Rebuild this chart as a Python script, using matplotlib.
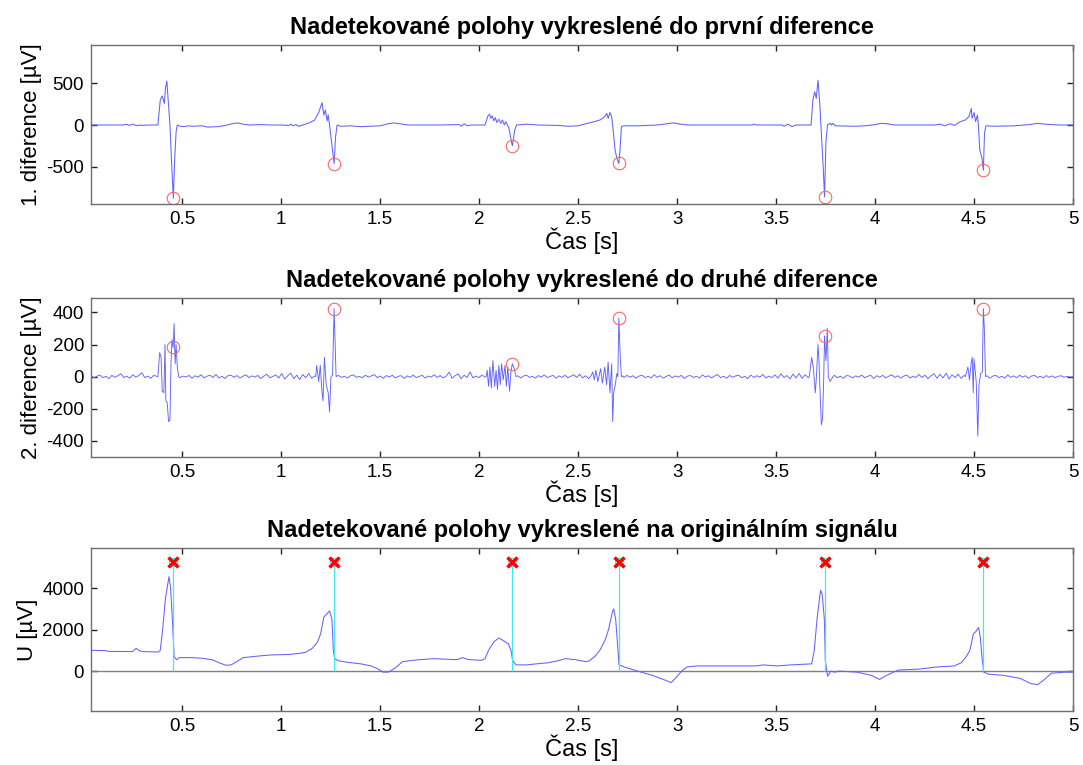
import numpy as np
import matplotlib
matplotlib.use('Agg')
from matplotlib import pyplot as plt

plt.rcParams['font.family'] = ['Liberation Sans', 'DejaVu Sans']

# detected positions [s] and values at them
det_t = [0.456, 1.268, 2.168, 2.706, 3.745, 4.547]
det_d1 = [-880, -465, -250, -462, -865, -545]
det_d2 = [183, 424, 81, 364, 254, 424]
det_mark = 5250

# first difference [uV]
d1_t = [0.04, 0.20, 0.22, 0.235, 0.25, 0.27, 0.29, 0.30, 0.33, 0.378, 0.39, 0.40, 0.411, 0.416,
        0.423, 0.43, 0.439, 0.446, 0.456, 0.463, 0.47, 0.476, 0.49, 0.51, 0.53, 0.55, 0.60, 0.63,
        0.68, 0.72, 0.75, 0.78, 0.81, 0.84, 0.90, 0.95, 1.00, 1.04, 1.05, 1.06, 1.075, 1.09, 1.11,
        1.146, 1.17, 1.19, 1.207, 1.216, 1.224, 1.233, 1.238, 1.245, 1.255, 1.268, 1.275, 1.283,
        1.30, 1.35, 1.40, 1.45, 1.50, 1.54, 1.57, 1.60, 1.64, 1.80, 1.90, 1.91, 1.925, 1.94, 1.96,
        2.03, 2.045, 2.053, 2.06, 2.066, 2.075, 2.082, 2.09, 2.10, 2.11, 2.118, 2.128, 2.135, 2.15,
        2.168, 2.175, 2.18, 2.19, 2.24, 2.30, 2.40, 2.45, 2.50, 2.547, 2.582, 2.61, 2.635, 2.645,
        2.652, 2.661, 2.67, 2.679, 2.687, 2.696, 2.706, 2.712, 2.719, 2.73, 2.80, 2.90, 2.95, 2.98,
        3.02, 3.06, 3.20, 3.38, 3.39, 3.40, 3.53, 3.54, 3.56, 3.58, 3.60, 3.677, 3.686, 3.695,
        3.703, 3.712, 3.721, 3.729, 3.738, 3.745, 3.752, 3.76, 3.773, 3.78, 3.787, 3.80, 3.90, 3.95,
        4.00, 4.03, 4.06, 4.10, 4.30, 4.33, 4.35, 4.38, 4.40, 4.43, 4.456, 4.474, 4.486, 4.49, 4.50,
        4.508, 4.517, 4.522, 4.529, 4.54, 4.547, 4.553, 4.56, 4.60, 4.70, 4.78, 4.82, 4.86, 4.93, 5.0]
d1_v = [0, 0, 8, -5, 10, -8, 0, -5, 0, 0, 300, 350, 260, 440,
        530, 300, 0, -400, -880, -400, -80, 0, -15, -20, -10, -15, -10, -25,
        -20, -5, 15, 25, 10, 0, 5, 0, 0, -5, 10, -10, 5, -15, 0,
        30, 60, 150, 270, 120, 180, 50, 120, 0, -200, -465, -150, 0,
        -15, -10, -20, -15, -10, 15, 25, 15, 0, 0, 5, -15, 15, -10, 0,
        0, 110, 130, 80, 110, 50, 90, 30, 70, 20, 60, 0, 40, -30,
        -250, -150, -60, 0, 10, 0, -5, -15, -10, 20, 40, 60, 100, 140,
        80, 150, 100, -100, -300, -400, -462, -300, -20, -10, -10, 0, 15, 25,
        10, 0, 0, 0, 10, 0, 0, -15, 10, -20, 0, 0, 300, 400,
        320, 540, 250, -100, -500, -865, -200, 0, 20, 0, 20, -10, -15, -10,
        5, 20, 15, 0, 0, 10, -10, 15, -5, 40, 60, 100, 200, 80, 150,
        40, 120, 0, -300, -400, -545, -100, -10, -15, -10, 5, 20, 10, 0, 0]

# second difference: QRS parts [uV]
q1_t = [0.378, 0.387, 0.394, 0.40, 0.408, 0.414, 0.418, 0.425, 0.432, 0.439, 0.444, 0.449,
        0.455, 0.46, 0.465, 0.47, 0.476, 0.483]
q1_v = [0, 150, 120, -90, -100, 200, -150, -160, -280, -270, 80, 230, 180, 330, 80, 200, 60, 0]
q2_t = [1.175, 1.18, 1.19, 1.198, 1.207, 1.212, 1.219, 1.228, 1.238, 1.245, 1.252, 1.26,
        1.268, 1.273, 1.278, 1.284]
q2_v = [0, 70, -30, 70, -100, -150, 120, -50, -100, -220, 0, 10, 424, 200, 0, 5]
q3_t = [2.036, 2.041, 2.048, 2.055, 2.062, 2.07, 2.079, 2.086, 2.093, 2.10, 2.107, 2.114,
        2.122, 2.131, 2.138, 2.145, 2.154, 2.161, 2.168, 2.178, 2.187]
q3_v = [0, 40, -60, 60, -70, 100, -60, 40, -80, 70, -50, 80, -20, 70, -60, 60, -90, 30, 81, 50, 0]
q4_t = [2.574, 2.582, 2.59, 2.60, 2.614, 2.623, 2.635, 2.644, 2.652, 2.661, 2.67, 2.675,
        2.68, 2.687, 2.696, 2.701, 2.706, 2.714, 2.719, 2.725]
q4_v = [30, -20, 40, -30, 50, -40, 60, -50, 90, -100, 80, -280, -100, -60, 20, 0, 364, 100, 0, 5]
q5_t = [3.668, 3.68, 3.689, 3.698, 3.703, 3.712, 3.717, 3.724, 3.729, 3.735, 3.741, 3.745,
        3.752, 3.759, 3.764, 3.773, 3.787]
q5_v = [0, 120, 50, -100, -20, 200, 100, -150, -300, -260, 0, 254, 100, 300, 0, -30, 0]
q6_t = [4.456, 4.469, 4.477, 4.486, 4.491, 4.496, 4.50, 4.511, 4.519, 4.525, 4.534, 4.542,
        4.547, 4.552, 4.558]
q6_v = [0, 60, -20, 90, 120, -100, 110, -30, -370, -50, 20, 30, 424, 300, 0]

# second difference: baseline jitter between complexes (start, end, values)
nA = (0.04, 0.372, [5, -8, 3, 10, -6, 2, -12, 8, -4, 6, 18, -5, 3, -9, 12, -3, 7, 25, -6, 4,
                    -10, 8, 2])
nB = (0.49, 1.17, [-6, 4, -2, 8, -10, 6, -3, 12, -7, 3, 9, -5, 14, -8, 2, -11, 6, 10, -4, 7,
                   -9, 3, 12, -6, 5, -3, 8, -12, 4, 15, -7, 2, 10, -8, 20, -15, 6, 22, -12, 9,
                   -18, 14, -6, 20, -10, 5])
nC = (1.29, 2.03, [8, -5, 3, -9, 6, 11, -4, 2, -7, 9, -3, 5, 13, -6, 4, -10, 7, -2, 9, -8, 3,
                   6, -11, 5, -4, 10, -6, 2, 8, -9, 4, -3, 12, -5, 7, -8, 3, 28, -10, 6, 18,
                   -12, 9, -5, 30, -8, 4, -6, 10, -3])
nD = (2.195, 2.568, [6, -8, 4, 10, -5, 3, -9, 7, -3, 11, -6, 2, 8, -10, 5, -4, 9, -7, 3, 12,
                     -5, 15, -8, 6, -12, 10])
nE = (2.732, 3.662, [-5, 8, -3, 6, -10, 4, 9, -6, 3, -8, 12, -4, 6, -9, 2, 10, -7, 5, -3, 8,
                     -11, 4, 7, -5, 3, -9, 11, -2, 6, -8, 4, 13, -6, 3, -10, 8, -4, 5, 9, -7,
                     2, -12, 10, -5, 6, -3, 14, -8, 4, -6, 11, -9, 18, -5, 7, -14, 16, -8, 20,
                     -10, 12, -6])
nF = (3.795, 4.45, [8, -6, 3, -10, 7, 4, -8, 5, -3, 10, -6, 2, 9, -11, 6, -4, 8, -7, 3, 12,
                    -5, 6, -9, 4, 10, -8, 3, -6, 14, -5, 9, -12, 6, 18, -10, 15, -8, 22, -14,
                    12, -6, 16, -10, 8])
nG = (4.565, 5.0, [6, -10, 4, 8, -6, 3, -9, 11, -4, 5, -7, 9, -3, 6, -10, 4, 8, -5, 2, -8, 7,
                   -4, 5, -6, 3, 6, -4, 2, -3, 0])

# original signal [uV]
u_t = [0.04, 0.11, 0.13, 0.25, 0.268, 0.285, 0.303, 0.38, 0.39, 0.402, 0.416, 0.434, 0.442,
       0.451, 0.46, 0.472, 0.486, 0.55, 0.60, 0.652, 0.687, 0.722, 0.748, 0.774, 0.809, 0.879,
       0.949, 1.036, 1.088, 1.123, 1.158, 1.184, 1.20, 1.216, 1.231, 1.245, 1.257, 1.264, 1.271,
       1.289, 1.332, 1.402, 1.455, 1.49, 1.516, 1.542, 1.577, 1.612, 1.647, 1.70, 1.77, 1.82,
       1.89, 1.917, 1.943, 2.013, 2.03, 2.048, 2.074, 2.10, 2.126, 2.149, 2.161, 2.17, 2.187,
       2.24, 2.295, 2.347, 2.40, 2.435, 2.488, 2.54, 2.558, 2.584, 2.61, 2.637, 2.654, 2.675,
       2.68, 2.69, 2.698, 2.707, 2.733, 2.80, 2.874, 2.944, 2.97, 2.996, 3.023, 3.05, 3.10, 3.40,
       3.435, 3.505, 3.575, 3.68, 3.693, 3.707, 3.725, 3.733, 3.744, 3.749, 3.76, 3.777, 3.795,
       3.82, 3.909, 3.98, 4.023, 4.049, 4.093, 4.119, 4.225, 4.312, 4.40, 4.435, 4.461, 4.479,
       4.497, 4.509, 4.523, 4.532, 4.54, 4.549, 4.575, 4.646, 4.733, 4.786, 4.821, 4.856, 4.891,
       4.961, 5.0]
u_v = [1000, 990, 950, 940, 1100, 980, 940, 920, 1000, 2000, 3500, 4550, 4000,
       2500, 700, 550, 650, 650, 620, 550, 400, 280, 300, 450, 650, 720,
       780, 800, 850, 900, 1100, 1400, 1800, 2600, 2750, 2900, 2500, 1000, 600,
       500, 430, 350, 250, 100, -50, -50, 150, 450, 500, 550, 600, 580,
       550, 650, 560, 520, 600, 1000, 1400, 1600, 1450, 1300, 1000, 500, 300,
       300, 356, 400, 500, 600, 550, 450, 500, 700, 1000, 1500, 2000, 2900,
       3000, 2500, 1500, 300, 200, 0, -200, -450, -550, -300, 0, 200, 250, 250,
       300, 250, 300, 350, 1000, 2500, 3900, 3700, 2500, 500, -250, 0, -50,
       0, -50, -200, -400, -250, -50, 50, 100, 200, 250, 400, 700, 1000,
       1800, 1900, 2100, 1600, 700, -50, -150, -200, -350, -600, -650, -400, -100,
       -50, -50]

# assemble second difference in time order
d2_t, d2_v = [], []
for seg, (qt, qv) in zip([nA, nB, nC, nD, nE, nF, nG],
                         [(q1_t, q1_v), (q2_t, q2_v), (q3_t, q3_v), (q4_t, q4_v),
                          (q5_t, q5_v), (q6_t, q6_v), ([], [])]):
    d2_t += list(np.linspace(seg[0], seg[1], len(seg[2])))
    d2_v += seg[2]
    d2_t += qt
    d2_v += qv

line_c = (0.38, 0.38, 1.0)
circ_c = (1.0, 0.4, 0.4)
edge_c = '#6e6e6e'

fig = plt.figure(figsize=(10.83, 7.65), dpi=100)
pos = [[0.084, 0.7333, 0.9068, 0.2079],
       [0.084, 0.4026, 0.9068, 0.2079],
       [0.084, 0.0706, 0.9068, 0.2131]]
axs = [fig.add_axes(p) for p in pos]

def style(ax, yticks, ylim, ylabel, title):
    ax.set_xlim(0.04, 5)
    ax.set_ylim(*ylim)
    ax.set_xticks([0.5, 1, 1.5, 2, 2.5, 3, 3.5, 4, 4.5, 5])
    ax.set_xticklabels(['0.5', '1', '1.5', '2', '2.5', '3', '3.5', '4', '4.5', '5'])
    ax.set_yticks(yticks)
    ax.set_yticklabels([str(v) for v in yticks])
    ax.tick_params(direction='in', length=4, width=1, colors='#222222', labelcolor='black',
                   labelsize=13.5, top=True, right=True, pad=5)
    for s in ax.spines.values():
        s.set_color(edge_c)
        s.set_linewidth(1.0)
    ax.set_xlabel('Čas [s]', fontsize=17, labelpad=0)
    ax.set_ylabel(ylabel, fontsize=16, labelpad=3)
    ax.set_title(title, fontsize=17, fontweight='bold', pad=8)

ax = axs[0]
ax.plot(d1_t, d1_v, color=line_c, lw=0.75)
ax.plot(det_t, det_d1, 'o', ms=9, mfc='none', mec=circ_c, mew=0.8)
style(ax, [-500, 0, 500], (-952, 964), '1. diference [µV]',
      'Nadetekované polohy vykreslené do první diference')

ax = axs[1]
ax.plot(d2_t, d2_v, color=line_c, lw=0.65)
ax.plot(det_t, det_d2, 'o', ms=9, mfc='none', mec=circ_c, mew=0.8)
style(ax, [-400, -200, 0, 200, 400], (-500, 490), '2. diference [µV]',
      'Nadetekované polohy vykreslené do druhé diference')

ax = axs[2]
ax.axhline(0, color='#808080', lw=1.0)
ax.plot(u_t, u_v, color=line_c, lw=0.75)
ax.vlines(det_t, 0, det_mark, color='#40e8f0', lw=0.9)
ax.plot(det_t, [det_mark] * len(det_t), 'o', ms=6, mfc='none', mec='#40e8f0', mew=0.8)
ax.plot(det_t, [det_mark] * len(det_t), 'x', ms=7, color='red', mew=2.5)
style(ax, [0, 2000, 4000], (-1920, 5930), 'U [µV]',
      'Nadetekované polohy vykreslené na originálním signálu')

fig.savefig('out.png', dpi=100)
